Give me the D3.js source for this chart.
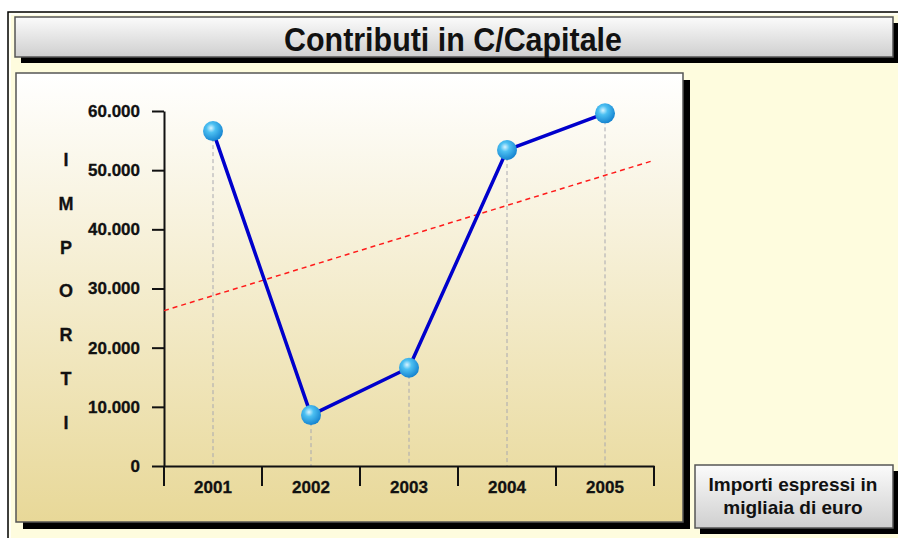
<!DOCTYPE html>
<html>
<head>
<meta charset="utf-8">
<script src="https://cdn.jsdelivr.net/npm/d3@7"></script>
<style>
  body { margin: 0; background: #ffffff; }
  text { font-family: "Liberation Sans", Arial, sans-serif; font-weight: bold; fill: #111; }
</style>
</head>
<body>
<div id="chart"></div>
<script>
// Chart data
var years = ["2001", "2002", "2003", "2004", "2005"];
var values = [56600, 8600, 16600, 53400, 59600];
var yTicks = [0, 10000, 20000, 30000, 40000, 50000, 60000];
var yTitle = ["I", "M", "P", "O", "R", "T", "I"];
var title = "Contributi in C/Capitale";
var note = ["Importi espressi in", "migliaia di euro"];

var W = 898, H = 538;

var svg = d3.select("#chart")
  .append("svg")
    .attr("width", W)
    .attr("height", H);

var defs = svg.append("defs");

// gradients
var gPanel = defs.append("linearGradient")
    .attr("id", "gPanel").attr("x1", 0).attr("y1", 0).attr("x2", 0).attr("y2", 1);
gPanel.append("stop").attr("offset", "0%").attr("stop-color", "#ffffff");
gPanel.append("stop").attr("offset", "100%").attr("stop-color", "#e8d898");

var gBox = defs.append("linearGradient")
    .attr("id", "gBox").attr("x1", 0).attr("y1", 0).attr("x2", 0).attr("y2", 1);
gBox.append("stop").attr("offset", "0%").attr("stop-color", "#fbfbfb");
gBox.append("stop").attr("offset", "100%").attr("stop-color", "#cfcfcf");

var gBall = defs.append("radialGradient")
    .attr("id", "gBall").attr("cx", "40%").attr("cy", "35%").attr("r", "65%");
gBall.append("stop").attr("offset", "0%").attr("stop-color", "#d8f4ff");
gBall.append("stop").attr("offset", "35%").attr("stop-color", "#4cc0f2");
gBall.append("stop").attr("offset", "100%").attr("stop-color", "#1684d0");

// outer frame
svg.append("rect")
    .attr("x", 8).attr("y", 12).attr("width", W).attr("height", H)
    .attr("fill", "#fefcde").attr("stroke", "#000").attr("stroke-width", 1.5);
svg.append("rect")
    .attr("x", 10).attr("y", 14).attr("width", W).attr("height", H)
    .attr("fill", "none").attr("stroke", "#fff").attr("stroke-width", 1.5);

// boxed panel with a black drop shadow
function panel(x, y, w, h, dx, dy, fill) {
  svg.append("rect")
      .attr("x", x + dx).attr("y", y + dy).attr("width", w).attr("height", h)
      .attr("fill", "#000");
  svg.append("rect")
      .attr("x", x).attr("y", y).attr("width", w).attr("height", h)
      .attr("fill", fill).attr("stroke", "#555").attr("stroke-width", 1.5);
}

// title
panel(15, 17, 878, 40, 6, 6, "url(#gBox)");
svg.append("text")
    .attr("x", 453).attr("y", 51)
    .attr("text-anchor", "middle")
    .attr("font-size", 33)
    .attr("textLength", 338)
    .attr("lengthAdjust", "spacingAndGlyphs")
    .text(title);

// chart panel
panel(16, 73, 667, 449, 7, 7, "url(#gPanel)");

// scales
var x = d3.scaleBand()
    .domain(years)
    .range([164, 654]);

var y = d3.scaleLinear()
    .domain([0, 60000])
    .range([466, 111]);

var loc = d3.formatLocale({decimal: ",", thousands: ".", grouping: [3], currency: ["", "€"]});
var fmt = loc.format(",d");

// trend line (least squares over the series)
var n = values.length;
var mx = d3.mean(values, function(d, i) { return i; });
var my = d3.mean(values);
var sxy = d3.sum(values, function(d, i) { return (i - mx) * (d - my); });
var sxx = d3.sum(values, function(d, i) { return (i - mx) * (i - mx); });
var slope = sxy / sxx;
var icpt = my - slope * mx;
var step = x.step();
var x0 = x(years[0]) + x.bandwidth() / 2;
function trendAt(px) { return icpt + slope * (px - x0) / step; }
var tx1 = x.range()[0], tx2 = x.range()[1];

// drop lines
svg.append("g")
  .selectAll("line")
  .data(values)
  .enter().append("line")
    .attr("x1", function(d, i) { return x(years[i]) + x.bandwidth() / 2; })
    .attr("x2", function(d, i) { return x(years[i]) + x.bandwidth() / 2; })
    .attr("y1", function(d) { return y(d); })
    .attr("y2", y(0))
    .attr("stroke", "#a8a8b0")
    .attr("stroke-width", 1)
    .attr("stroke-dasharray", "4,3");

// y axis
var yAxis = d3.axisLeft(y)
    .tickValues(yTicks)
    .tickFormat(fmt)
    .tickSize(12)
    .tickSizeOuter(0)
    .tickPadding(12);

var gy = svg.append("g")
    .attr("transform", "translate(164,0)")
    .call(yAxis);
gy.selectAll("text").attr("font-size", 17).attr("font-family", "Liberation Sans, Arial, sans-serif")
    .attr("font-weight", "bold").attr("fill", "#111").attr("stroke", "#111").attr("stroke-width", 0.3);
gy.selectAll("line").attr("stroke", "#111").attr("stroke-width", 2);
gy.select(".domain").attr("stroke", "#111").attr("stroke-width", 2);

// x axis
var xAxis = d3.axisBottom(x)
    .tickSize(0)
    .tickSizeOuter(0)
    .tickPadding(15);

var gx = svg.append("g")
    .attr("transform", "translate(0," + y(0) + ")")
    .call(xAxis);
gx.selectAll("text").attr("font-size", 17).attr("font-family", "Liberation Sans, Arial, sans-serif")
    .attr("font-weight", "bold").attr("fill", "#111").attr("stroke", "#111").attr("stroke-width", 0.3);
gx.select(".domain").attr("stroke", "#111").attr("stroke-width", 2);

var bounds = years.map(function(d) { return x(d); }).concat([x(years[n - 1]) + x.bandwidth()]);
gx.selectAll(".sep")
  .data(bounds)
  .enter().append("line")
    .attr("class", "sep")
    .attr("x1", function(d) { return d; })
    .attr("x2", function(d) { return d; })
    .attr("y1", 0).attr("y2", 20)
    .attr("stroke", "#111").attr("stroke-width", 2);

// y title letters
svg.append("g")
  .selectAll("text")
  .data(yTitle)
  .enter().append("text")
    .attr("x", 66)
    .attr("y", function(d, i) { return 166 + i * 43.8; })
    .attr("text-anchor", "middle")
    .attr("font-size", 18)
    .attr("stroke", "#111").attr("stroke-width", 0.3)
    .text(function(d) { return d; });

// trend
svg.append("line")
    .attr("x1", tx1).attr("y1", y(trendAt(tx1)))
    .attr("x2", tx2).attr("y2", y(trendAt(tx2)))
    .attr("stroke", "#ff1a1a")
    .attr("stroke-width", 1.5)
    .attr("stroke-dasharray", "5,4");

// series line
var line = d3.line()
    .x(function(d, i) { return x(years[i]) + x.bandwidth() / 2; })
    .y(function(d) { return y(d); });

svg.append("path")
    .datum(values)
    .attr("d", line)
    .attr("fill", "none")
    .attr("stroke", "#0000cc")
    .attr("stroke-width", 3.5)
    .attr("stroke-linejoin", "round");

svg.append("g")
  .selectAll("circle")
  .data(values)
  .enter().append("circle")
    .attr("cx", function(d, i) { return x(years[i]) + x.bandwidth() / 2; })
    .attr("cy", function(d) { return y(d); })
    .attr("r", 10)
    .attr("fill", "url(#gBall)");

// note box
panel(695, 465, 198, 63, 5, 6, "url(#gBox)");
svg.append("g")
  .selectAll("text")
  .data(note)
  .enter().append("text")
    .attr("x", 793)
    .attr("y", function(d, i) { return 491 + i * 23; })
    .attr("text-anchor", "middle")
    .attr("font-size", 19)
    .text(function(d) { return d; });
</script>
</body>
</html>
